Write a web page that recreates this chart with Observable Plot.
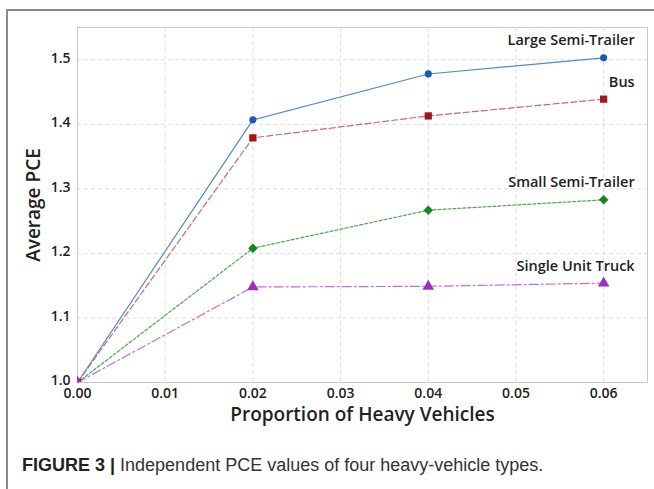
<!DOCTYPE html>
<html>
<head>
<meta charset="utf-8">
<script src="https://cdn.jsdelivr.net/npm/d3@7"></script>
<script src="https://cdn.jsdelivr.net/npm/@observablehq/plot@0.6"></script>
<style>
  html, body { margin: 0; padding: 0; background: #fff; }
  body { width: 654px; height: 489px; position: relative; overflow: hidden; }
  #outer { position: absolute; left: 6px; top: 9px; width: 700px; height: 600px;
           border-left: 2px solid #8a8a8a; border-top: 2px solid #8a8a8a; }
  #chart { position: absolute; left: 0; top: 0; }
  #caption { position: absolute; left: 22px; top: 455px; font-family: "Liberation Sans", Arial, sans-serif;
             font-size: 18px; color: #333; white-space: nowrap; }
  #caption b { color: #222; }
</style>
</head>
<body>
<div id="outer"></div>
<div id="chart"></div>
<div id="caption"><b>FIGURE 3 |</b> Independent PCE values of four heavy-vehicle types.</div>
<script>
// ---- data ----
const proportions = [0, 0.02, 0.04, 0.06];
const vehicleTypes = ["Large Semi-Trailer", "Bus", "Small Semi-Trailer", "Single Unit Truck"];
const largeSemiTrailer = [1.0, 1.407, 1.478, 1.503];
const bus = [1.0, 1.379, 1.413, 1.439];
const smallSemiTrailer = [1.0, 1.208, 1.267, 1.283];
const singleUnitTruck = [1.0, 1.148, 1.149, 1.154];
const xTicks = [0, 0.01, 0.02, 0.03, 0.04, 0.05, 0.06];
const yTicks = [1.0, 1.1, 1.2, 1.3, 1.4, 1.5];

// ---- styling ----
const seriesValues = [largeSemiTrailer, bus, smallSemiTrailer, singleUnitTruck];
const lineColors = ["#4f8ad0", "#c96a6a", "#4aa84a", "#bf6ee0"];
const markColors = ["#1a5cb4", "#a11818", "#138a1f", "#9a2fc8"];
const dashes = [null, "6,3", "3,2", "9,3,2,3"];
const symbols = ["circle", "square", "diamond2", "triangle"];
const radii = [3.6, 4.1, 4.3, 4.3];

const rows = [];
vehicleTypes.forEach((type, i) => {
  proportions.forEach((p, j) => rows.push({type, i, p, v: seriesValues[i][j]}));
});
const lastRows = rows.filter(d => d.p === proportions[proportions.length - 1]);

const font = "'Open Sans', 'Noto Sans', sans-serif";
const marks = [
  Plot.gridX(xTicks, {stroke: "#dcdcdc", strokeOpacity: 1, strokeDasharray: "4,3"}),
  Plot.gridY(yTicks, {stroke: "#dcdcdc", strokeOpacity: 1, strokeDasharray: "4,3"}),
  Plot.frame({stroke: "#c8c8c8"}),
  Plot.axisX({ticks: xTicks, tickFormat: d => d.toFixed(2), tickSize: 0, tickPadding: 6,
              fontSize: 14, fontWeight: 600, fill: "#222", label: null}),
  Plot.axisY({ticks: yTicks, tickFormat: d => d.toFixed(1), tickSize: 0, tickPadding: 7, dy: -1.5,
              fontSize: 14, fontWeight: 600, fill: "#222", label: null}),
  Plot.text(["Proportion of Heavy Vehicles"], {text: d => d, frameAnchor: "bottom", dy: 32,
              textAnchor: "middle", lineAnchor: "middle", fontSize: 19, fontWeight: 600, fill: "#222"}),
  Plot.text(["Average PCE"], {text: d => d, frameAnchor: "left", rotate: -90, dx: -44,
              textAnchor: "middle", lineAnchor: "middle", fontSize: 19, fontWeight: 600, fill: "#222"})
];
vehicleTypes.forEach((type, i) => {
  const data = rows.filter(d => d.i === i);
  marks.push(Plot.line(data, {x: "p", y: "v", stroke: lineColors[i], strokeWidth: 1.2,
                              strokeDasharray: dashes[i]}));
});
vehicleTypes.forEach((type, i) => {
  const data = rows.filter(d => d.i === i);
  marks.push(Plot.dot(data, {x: "p", y: "v", symbol: () => symbols[i], r: radii[i],
                             fill: markColors[i], stroke: "none", clip: true}));
});
marks.push(Plot.text(lastRows, {x: "p", y: "v", text: "type", textAnchor: "end", dx: 31, dy: -17,
                                lineAnchor: "middle", fontSize: 14.5, fontWeight: 600, fill: "#222"}));

const chart = Plot.plot({
  width: 654, height: 430,
  marginLeft: 77, marginRight: 7, marginTop: 27, marginBottom: 48,
  style: {fontFamily: font, background: "transparent", overflow: "visible"},
  x: {domain: [0, 0.065]},
  y: {domain: [1.0, 1.55]},
  symbol: {type: "identity"},
  marks
});
document.getElementById("chart").appendChild(chart);
</script>
</body>
</html>
